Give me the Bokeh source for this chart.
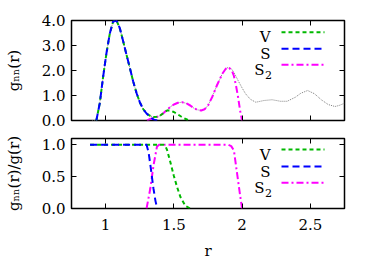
from bokeh.plotting import figure
from bokeh.models import Range1d, FixedTicker, LinearAxis, Label
from bokeh.layouts import column
from bokeh.embed import file_html
from bokeh.resources import INLINE

# ---------------- data ----------------
# full g(r)
r_g = [0.90, 0.932, 0.957, 0.982, 1.006, 1.031, 1.055, 1.08, 1.104, 1.129, 1.153,
       1.178, 1.202, 1.227, 1.251, 1.276, 1.30, 1.325, 1.35, 1.375, 1.40, 1.425,
       1.45, 1.475, 1.50, 1.53, 1.56, 1.59, 1.62, 1.645, 1.67, 1.70, 1.725, 1.75,
       1.78, 1.815, 1.855, 1.88, 1.90, 1.925, 1.95, 1.975, 2.00, 2.025, 2.06, 2.10,
       2.16, 2.22, 2.28, 2.33, 2.39, 2.43, 2.48, 2.53, 2.58, 2.63, 2.68, 2.71, 2.75]
g = [0.0, 0.0, 0.69, 1.76, 2.69, 3.49, 3.96, 4.0, 3.69, 3.16, 2.63,
     2.09, 1.56, 1.09, 0.72, 0.45, 0.28, 0.19, 0.14, 0.15, 0.20, 0.30,
     0.43, 0.55, 0.64, 0.71, 0.73, 0.69, 0.60, 0.50, 0.43, 0.40, 0.45, 0.60,
     0.93, 1.40, 1.87, 2.07, 2.13, 2.05, 1.82, 1.55, 1.30, 1.07, 0.85, 0.73,
     0.80, 0.83, 0.77, 0.77, 0.93, 1.09, 1.20, 1.07, 0.83, 0.64, 0.56, 0.60, 0.69]

# g_nn(r) for the three neighbour definitions
r_v = [0.932, 0.957, 0.982, 1.006, 1.031, 1.055, 1.08, 1.104, 1.129, 1.153, 1.178,
       1.202, 1.227, 1.251, 1.276, 1.30, 1.325, 1.35, 1.375, 1.40, 1.425, 1.45,
       1.475, 1.50, 1.525, 1.55, 1.575, 1.60, 1.625]
gv = [0.0, 0.69, 1.76, 2.69, 3.49, 3.96, 4.0, 3.69, 3.16, 2.63, 2.09,
      1.56, 1.09, 0.72, 0.45, 0.28, 0.19, 0.14, 0.15, 0.20, 0.30, 0.40,
      0.40, 0.34, 0.26, 0.17, 0.09, 0.03, 0.0]
r_s = [0.932, 0.957, 0.982, 1.006, 1.031, 1.055, 1.08, 1.104, 1.129, 1.153, 1.178,
       1.202, 1.227, 1.251, 1.276, 1.30, 1.315, 1.33, 1.35, 1.365, 1.378]
gs = [0.0, 0.69, 1.76, 2.69, 3.49, 3.96, 4.0, 3.69, 3.16, 2.63, 2.09,
      1.56, 1.09, 0.72, 0.45, 0.28, 0.20, 0.12, 0.045, 0.017, 0.0]
r_s2 = [1.303, 1.327, 1.351, 1.376, 1.40, 1.425, 1.45, 1.475, 1.50, 1.53, 1.56,
        1.59, 1.62, 1.645, 1.67, 1.70, 1.725, 1.75, 1.78, 1.815, 1.855, 1.88,
        1.90, 1.925, 1.94, 1.955, 1.97, 1.985, 2.0]
gs2 = [0.0, 0.06, 0.095, 0.145, 0.20, 0.30, 0.43, 0.55, 0.64, 0.71, 0.73,
       0.69, 0.60, 0.50, 0.43, 0.40, 0.45, 0.60, 0.93, 1.40, 1.87, 2.07,
       2.13, 2.0, 1.78, 1.40, 0.95, 0.40, 0.0]

# ratios g_nn(r)/g(r)
r_vr = [0.886, 1.425, 1.44, 1.45, 1.474, 1.499, 1.523, 1.548, 1.585, 1.62]
vr = [1.0, 1.0, 0.97, 0.92, 0.73, 0.52, 0.34, 0.18, 0.04, 0.0]
r_sr = [0.886, 1.30, 1.315, 1.33, 1.35, 1.365, 1.378]
sr = [1.0, 1.0, 0.88, 0.65, 0.32, 0.12, 0.0]
r_s2r = [1.30, 1.327, 1.351, 1.376, 1.39, 1.90, 1.92, 1.94, 1.965, 1.989, 2.0]
s2r = [0.0, 0.31, 0.68, 0.97, 1.0, 1.0, 0.98, 0.91, 0.52, 0.15, 0.0]

x_ticks = [1, 1.5, 2, 2.5]
x_tick_labels = ["1", "1.5", "2", "2.5"]
y_ticks_top = [0, 1, 2, 3, 4]
y_tick_labels_top = ["0.0", "1.0", "2.0", "3.0", "4.0"]
y_ticks_bot = [0, 0.5, 1.0]
y_tick_labels_bot = ["0.0", "0.5", "1.0"]
legend_names = ["V", "S", "S"]
x_title = "r"
y_title_top = "g\u2099\u2099(r)"
y_title_bot = "g\u2099\u2099(r)/g(r)"

# ---------------- style / layout ----------------
FONT = "DejaVu Serif"
FS = 15
SUB = 11
GREEN, BLUE, MAGENTA, GRAY = "#00b800", "#0000ff", "#ff00ff", "#808080"
DASH_V, DASH_S, DASH_S2 = "4 3", "7 4", "7 3 2 3"
LW = 2

X0, X1 = 0.75, 2.75
FRAME_L, FRAME_R = 71, 344
FW = FRAME_R - FRAME_L
PW = 370
H1, H2 = 130, 132
FT1, FB1 = 20, 120        # top panel frame (page px)
FT2, FB2 = 138, 208       # bottom panel frame (page px)


def make_fig(y0, y1, h, ft, fb, top_off, yt, ytl, ytitle, xlabels):
    p = figure(width=PW, height=h,
               x_range=Range1d(X0, X1), y_range=Range1d(y0, y1),
               output_backend="svg", toolbar_location=None,
               min_border_left=FRAME_L, min_border_right=PW - FRAME_L - FW,
               min_border_top=ft - top_off, min_border_bottom=h - (fb - top_off),
               background_fill_color="white", border_fill_color="white",
               outline_line_color="black", outline_line_width=1.5)
    p.grid.visible = False
    for ax in (p.xaxis[0], p.yaxis[0]):
        ax.axis_line_color = None
        ax.major_tick_in = 5
        ax.major_tick_out = 0
        ax.major_tick_line_color = "black"
        ax.minor_tick_line_color = None
        ax.major_label_text_font = FONT
        ax.major_label_text_font_size = f"{FS}px"
        ax.major_label_text_color = "black"
        ax.axis_label_text_font = FONT
        ax.axis_label_text_font_size = f"{FS}px"
        ax.axis_label_text_font_style = "normal"
        ax.axis_label_text_color = "black"
    p.xaxis[0].ticker = FixedTicker(ticks=x_ticks)
    p.yaxis[0].ticker = FixedTicker(ticks=yt)
    p.yaxis[0].major_label_overrides = dict(zip(yt, ytl))
    p.yaxis[0].major_label_standoff = 6
    p.yaxis[0].axis_label = ytitle
    p.yaxis[0].axis_label_standoff = 16
    if xlabels:
        p.xaxis[0].major_label_overrides = dict(zip(x_ticks, x_tick_labels))
        p.xaxis[0].major_label_standoff = 10
        p.xaxis[0].axis_label = x_title
        p.xaxis[0].axis_label_standoff = 9
    else:
        p.xaxis[0].major_label_text_font_size = "1px"
        p.xaxis[0].major_label_text_color = None
        p.xaxis[0].major_label_standoff = 0
    # mirrored ticks on top and right
    for loc, tk in (("above", x_ticks), ("right", yt)):
        a = LinearAxis(ticker=FixedTicker(ticks=tk), axis_line_color=None,
                       major_tick_in=5, major_tick_out=0,
                       minor_tick_line_color=None,
                       major_label_text_font_size="1px",
                       major_label_text_color=None, major_label_standoff=0)
        p.add_layout(a, loc)
    return p


p1 = make_fig(0, 4, H1, FT1, FB1, 0, y_ticks_top, y_tick_labels_top, y_title_top, False)
p2 = make_fig(0, 1.1, H2, FT2, FB2, H1, y_ticks_bot, y_tick_labels_bot, y_title_bot, True)


def dx(px):
    return X0 + (px - FRAME_L) * (X1 - X0) / FW


def dy1(py):
    return 4 * (FB1 - py) / (FB1 - FT1)


def dy2(py):
    return 1.1 * (FB2 - py) / (FB2 - FT2)


# curves
p1.line(r_g, g, line_color=GRAY, line_width=1, line_dash="1 1")
p1.line(r_s2, gs2, line_color=MAGENTA, line_width=LW, line_dash=DASH_S2)
p1.line(r_v, gv, line_color=GREEN, line_width=LW, line_dash=DASH_V)
p1.line(r_s, gs, line_color=BLUE, line_width=LW, line_dash=DASH_S)

p2.line(r_s2r, s2r, line_color=MAGENTA, line_width=LW, line_dash=DASH_S2)
p2.line(r_vr, vr, line_color=GREEN, line_width=LW, line_dash=DASH_V)
p2.line(r_sr, sr, line_color=BLUE, line_width=LW, line_dash=DASH_S)

# legends: label text, then a line sample to its right
styles = [(GREEN, DASH_V), (BLUE, DASH_S), (MAGENTA, DASH_S2)]
for p, dy, ys in ((p1, dy1, [31.7, 48.3, 64.3]), (p2, dy2, [149, 166, 182.3])):
    for i, (name, (col, dash), yl) in enumerate(zip(legend_names, styles, ys)):
        p.line([dx(281), dx(324)], [dy(yl), dy(yl)], line_color=col,
               line_width=LW, line_dash=dash)
        right = 264 if i == 2 else 270
        p.add_layout(Label(x=dx(right), y=dy(yl + 5), text=name, text_font=FONT,
                           text_font_size=f"{FS}px", text_align="right",
                           text_baseline="alphabetic", text_color="black"))
        if i == 2:
            p.add_layout(Label(x=dx(264.5), y=dy(yl + 10), text="2", text_font=FONT,
                               text_font_size=f"{SUB}px", text_align="left",
                               text_baseline="alphabetic", text_color="black"))

layout = column(p1, p2, spacing=0)
open("out.html", "w").write(file_html(layout, INLINE))
